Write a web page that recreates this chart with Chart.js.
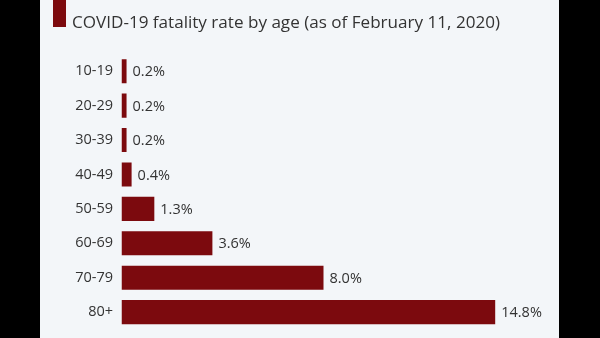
<!DOCTYPE html>
<html>
<head>
<meta charset="utf-8">
<script src="https://cdn.jsdelivr.net/npm/chart.js@4"></script>
<style>
  html, body { margin: 0; padding: 0; background: #000; }
  #wrap { width: 600px; height: 338px; position: relative; }
</style>
</head>
<body>
<div id="wrap"><canvas id="c" width="600" height="338"></canvas></div>
<script>
const title = "COVID-19 fatality rate by age (as of February 11, 2020)";
const categories = ["10-19", "20-29", "30-39", "40-49", "50-59", "60-69", "70-79", "80+"];
const fatalityRate = [0.2, 0.2, 0.2, 0.4, 1.3, 3.6, 8.0, 14.8];
const valueLabels = ["0.2%", "0.2%", "0.2%", "0.4%", "1.3%", "3.6%", "8.0%", "14.8%"];

const BAR = "#7c0a0e";
const TEXT = "#333333";
const FONT = "'Open Sans', sans-serif";

const frame = {
  id: "frame",
  beforeDraw(chart) {
    const ctx = chart.ctx;
    ctx.save();
    ctx.fillStyle = "#000";
    ctx.fillRect(0, 0, chart.width, chart.height);
    ctx.fillStyle = "#f3f6f9";
    ctx.fillRect(40, 0, 519, chart.height);
    ctx.fillStyle = BAR;
    ctx.fillRect(53, 0, 13, 27);
    ctx.fillStyle = TEXT;
    ctx.font = "18px " + FONT;
    ctx.textBaseline = "alphabetic";
    ctx.textAlign = "left";
    const w = ctx.measureText(title).width;
    const size = 18 * 428 / w;
    ctx.font = size.toFixed(2) + "px " + FONT;
    ctx.fillText(title, 72, 27.5);
    ctx.restore();
  }
};

const valueLabelPlugin = {
  id: "valueLabels",
  afterDatasetsDraw(chart) {
    const ctx = chart.ctx;
    const meta = chart.getDatasetMeta(0);
    ctx.save();
    ctx.fillStyle = TEXT;
    ctx.font = "14.5px " + FONT;
    ctx.textAlign = "left";
    ctx.textBaseline = "middle";
    meta.data.forEach((bar, i) => {
      ctx.fillText(valueLabels[i], bar.x + 6, bar.y + 1);
    });
    ctx.restore();
  }
};

new Chart(document.getElementById("c"), {
  type: "bar",
  data: {
    labels: categories,
    datasets: [{
      data: fatalityRate,
      backgroundColor: BAR,
      borderWidth: 0,
      barPercentage: 0.7,
      categoryPercentage: 1.0
    }]
  },
  options: {
    indexAxis: "y",
    responsive: false,
    animation: false,
    devicePixelRatio: 1,
    layout: { padding: { left: 0, right: 74.5, top: 54, bottom: 8.7 } },
    plugins: { legend: { display: false }, tooltip: { enabled: false }, title: { display: false } },
    scales: {
      x: { display: false, min: 0, max: 16 },
      y: {
        afterFit(scale) { scale.width = 121.5; scale.paddingTop = 0; scale.paddingBottom = 0; },
        grid: { display: false, drawTicks: false },
        border: { display: false },
        ticks: { color: TEXT, font: { family: FONT, size: 14.5 }, padding: 8.5 }
      }
    }
  },
  plugins: [frame, valueLabelPlugin]
});
</script>
</body>
</html>
